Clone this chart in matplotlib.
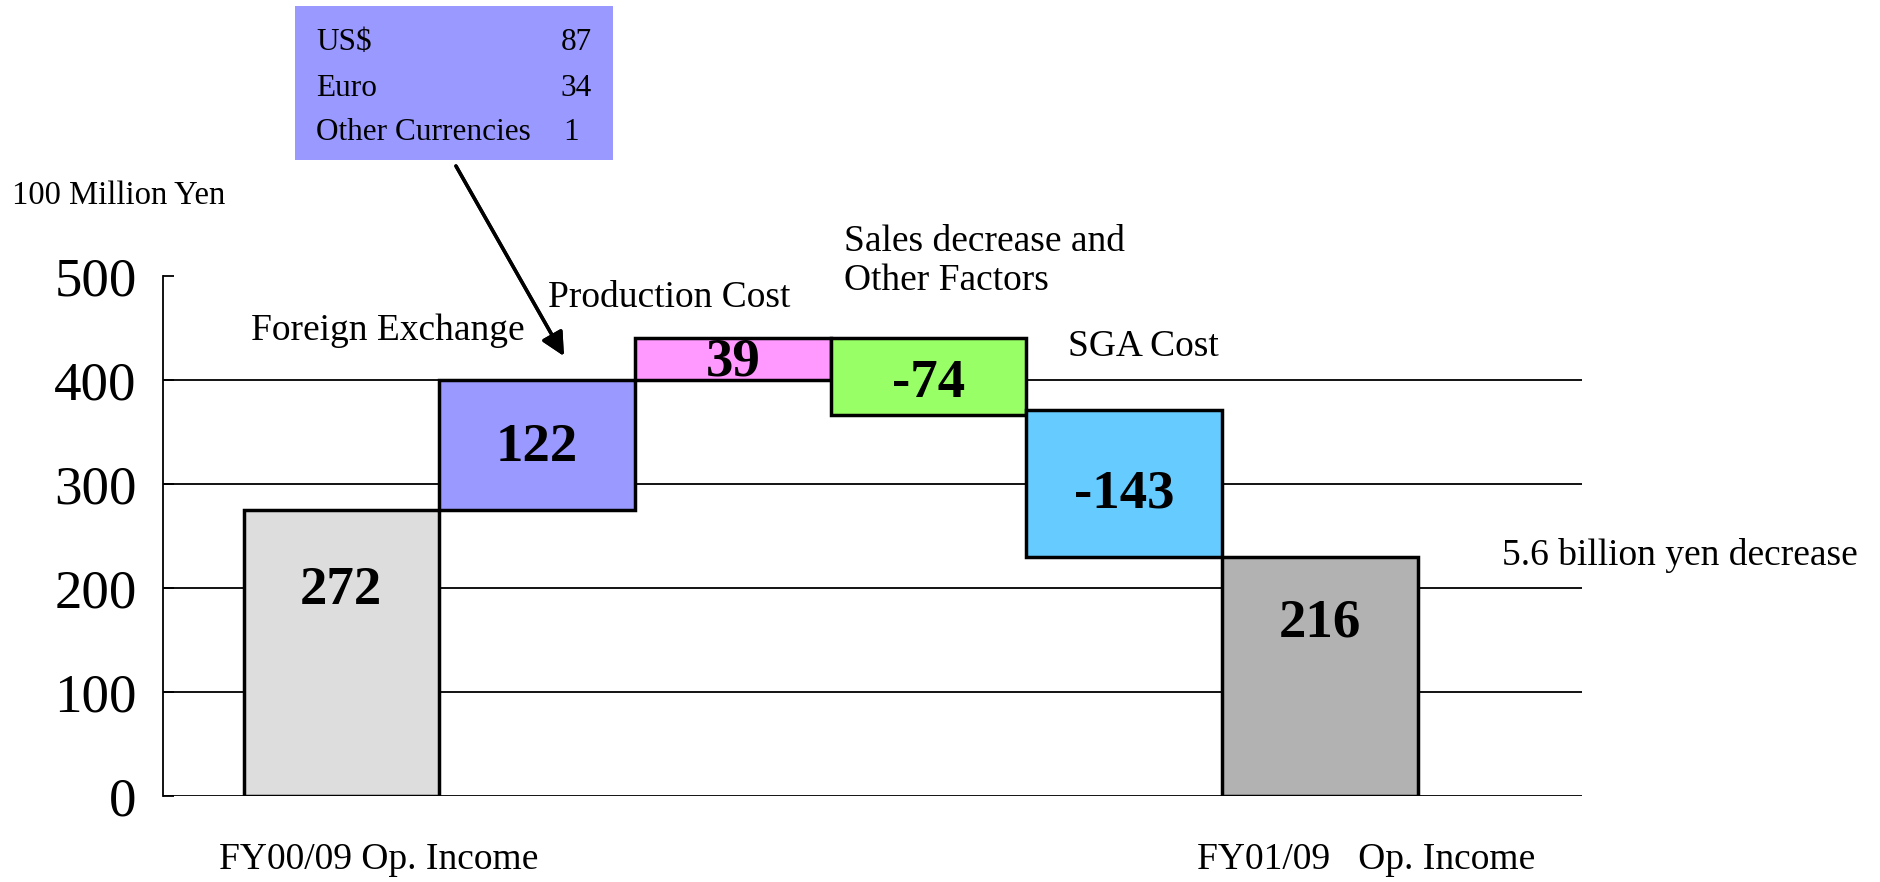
import matplotlib.pyplot as plt

plt.rcParams['font.family'] = ['Liberation Serif', 'DejaVu Serif']

# waterfall bars as drawn in the picture (bottom / top in 100 million yen)
steps = ["FY00/09", "Foreign Exchange", "Production Cost", "Sales decrease", "SGA Cost", "FY01/09"]
labels = ["272", "122", "39", "-74", "-143", "216"]
bar_bottom = [0, 275, 400, 366, 230, 0]
bar_top = [275, 400, 440, 440, 371, 230]
label_y = [197, 335, 417, 396, 290, 166]
colors = ["#DDDDDD", "#9999FF", "#FF99FF", "#99FF66", "#66CCFF", "#B2B2B2"]

yticks = [0, 100, 200, 300, 400, 500]
grid_levels = [0, 100, 200, 300, 400]

currency = ["US$", "Euro", "Other Currencies"]
currency_val = ["87", "34", "1"]

XL, XR = -0.911, 6.34

fig = plt.figure(figsize=(18.81, 8.82), dpi=100)
ax = fig.add_axes([0.0867, 0.0975, 0.7544, 0.5897])

x = list(range(len(steps)))
heights = [t - b for t, b in zip(bar_top, bar_bottom)]
ax.bar(x, heights, bottom=bar_bottom, width=1.0, color=colors,
       edgecolor='black', linewidth=2.5, zorder=2)

for i in x:
    ax.text(i, label_y[i], labels[i], ha='center', va='center',
            fontsize=39.5, fontweight='bold', zorder=3)

ax.set_xlim(XL, XR)
ax.set_ylim(0, 500)
ax.hlines(grid_levels, XL, XR, colors='black', linewidth=1.3, zorder=1)

for s in ['top', 'right', 'bottom']:
    ax.spines[s].set_visible(False)
ax.spines['left'].set_linewidth(1.3)
ax.set_xticks([])
ax.set_yticks(yticks)
ax.tick_params(axis='y', direction='in', length=8, width=1.3, pad=19, labelsize=39.5)

# step captions
cap = 27
ax.text(-0.463, 447, "Foreign Exchange", fontsize=cap, va='center', ha='left')
ax.text(1.058, 479, "Production Cost", fontsize=cap, va='center', ha='left')
ax.text(2.567, 514, "Sales decrease and\nOther Factors", fontsize=cap,
        va='center', ha='left', linespacing=1.2, clip_on=False)
ax.text(3.715, 432, "SGA Cost", fontsize=cap, va='center', ha='left')
ax.text(5.93, 231, "5.6 billion yen decrease", fontsize=cap, va='center', ha='left', clip_on=False)
ax.text(-0.623, -61, "FY00/09 Op. Income", fontsize=cap, va='center', ha='left', clip_on=False)
ax.text(4.37, -61, "FY01/09   Op. Income", fontsize=cap, va='center', ha='left', clip_on=False)

fig.text(0.0064, 0.778, "100 Million Yen", fontsize=23.5, va='center', ha='left')

# currency breakdown box
box = plt.Rectangle((0.157, 0.819), 0.169, 0.1746, transform=fig.transFigure,
                    facecolor='#9999FF', edgecolor='none')
fig.patches.append(box)
rows_y = [0.952, 0.900, 0.850]
num_x = [0.3147, 0.3147, 0.308]
for name, val, yy, xx in zip(currency, currency_val, rows_y, num_x):
    fig.text(0.168, yy, name, fontsize=22.5, va='center', ha='left')
    fig.text(xx, yy, val, fontsize=22.5, va='center', ha='right')

fig.add_artist(plt.annotate("", xy=(0.2998, 0.5964), xytext=(0.2424, 0.8118),
                            xycoords='figure fraction', textcoords='figure fraction',
                            arrowprops=dict(arrowstyle='-|>', color='black', lw=2.5,
                                            mutation_scale=35, shrinkA=0, shrinkB=0)))

fig.savefig("out.png", dpi=100)
